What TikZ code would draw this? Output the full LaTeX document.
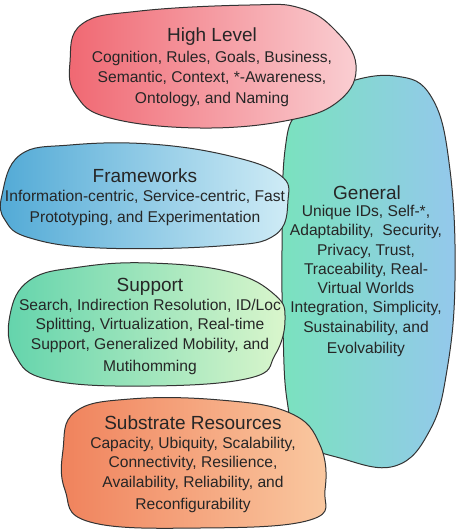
\documentclass[tikz,border=0pt]{standalone}
\usepackage{fontspec}
\setmainfont{Liberation Sans}
\begin{document}
\begin{tikzpicture}[x=1pt,y=-1pt,
  blob/.style={draw=black!80,line width=1pt},
  ttl/.style={text=black!85,font=\fontsize{19}{22}\selectfont,inner sep=0pt},
  body/.style={text=black!85,font=\fontsize{15.6}{19.3}\selectfont,align=center,inner sep=0pt}]
\useasboundingbox (0,0) rectangle (459,529);
\definecolor{hiL}{RGB}{240,104,114}\definecolor{hiR}{RGB}{250,206,210}
\definecolor{fwL}{RGB}{82,170,214}\definecolor{fwR}{RGB}{208,236,246}
\definecolor{geL}{RGB}{122,226,190}\definecolor{geR}{RGB}{148,200,236}
\definecolor{suL}{RGB}{100,212,172}\definecolor{suR}{RGB}{218,246,204}
\definecolor{sbL}{RGB}{240,130,92}\definecolor{sbR}{RGB}{250,202,162}
% General (behind)
\draw[blob,left color=geL,right color=geR] plot[smooth cycle,tension=0.7] coordinates
 {(282,250) (285,150) (300,110) (340,85) (395,76) (432,98) (450,170) (455,280) (447,370) (430,430) (395,466) (340,458) (300,440) (287,400) (283,330)};
% High Level
\draw[blob,left color=hiL,right color=hiR] plot[smooth cycle,tension=0.7] coordinates
 {(70,62) (82,24) (140,11) (250,5) (300,8) (335,30) (356,65) (340,100) (290,120) (200,128) (110,118) (76,95)};
% Frameworks
\draw[blob,left color=fwL,right color=fwR] plot[smooth cycle,tension=0.7] coordinates
 {(2,195) (20,155) (70,145) (150,144) (230,156) (280,175) (288,200) (275,235) (220,246) (100,248) (30,238) (5,220)};
% Support
\draw[blob,left color=suL,right color=suR] plot[smooth cycle,tension=0.7] coordinates
 {(10,315) (30,280) (80,267) (150,263) (230,272) (275,295) (285,320) (275,355) (250,378) (150,386) (50,380) (15,355)};
% Substrate
\draw[blob,left color=sbL,right color=sbR] plot[smooth cycle,tension=0.7] coordinates
 {(63,450) (75,412) (130,399) (220,400) (290,413) (320,445) (325,490) (310,520) (200,528) (90,522) (65,490)};
% texts
\node[ttl] (hiT) at (212,37) {High Level};
\node[body] (hiB) at (212,79) {Cognition, Rules, Goals, Business,\\ Semantic, Context, *-Awareness,\\[2pt] Ontology, and Naming};
\node[ttl] (fwT) at (145,176) {Frameworks};
\node[body] (fwB) at (145,208) {Information-centric, Service-centric, Fast\\[2pt] Prototyping, and Experimentation};
\node[ttl] (geT) at (367,193) {General};
\node[body] (geB) at (366,281) {Unique IDs, Self-*,\\ Adaptability,~ Security,\\ Privacy, Trust,\\ Traceability, Real-\\ Virtual Worlds\\ Integration, Simplicity,\\ Sustainability, and\\[2pt] Evolvability};
\node[ttl] (suT) at (150,287) {Support};
\node[body] (suB) at (150,337) {Search, Indirection Resolution, ID/Loc\\ Splitting, Virtualization, Real-time\\ Support, Generalized Mobility, and\\[3pt] Mutihomming};
\node[ttl] (sbT) at (193,423) {Substrate Resources};
\node[body] (sbB) at (193,475) {Capacity, Ubiquity, Scalability,\\ Connectivity, Resilience,\\ Availability, Reliability, and\\[3pt] Reconfigurability};
\end{tikzpicture}
\end{document}
